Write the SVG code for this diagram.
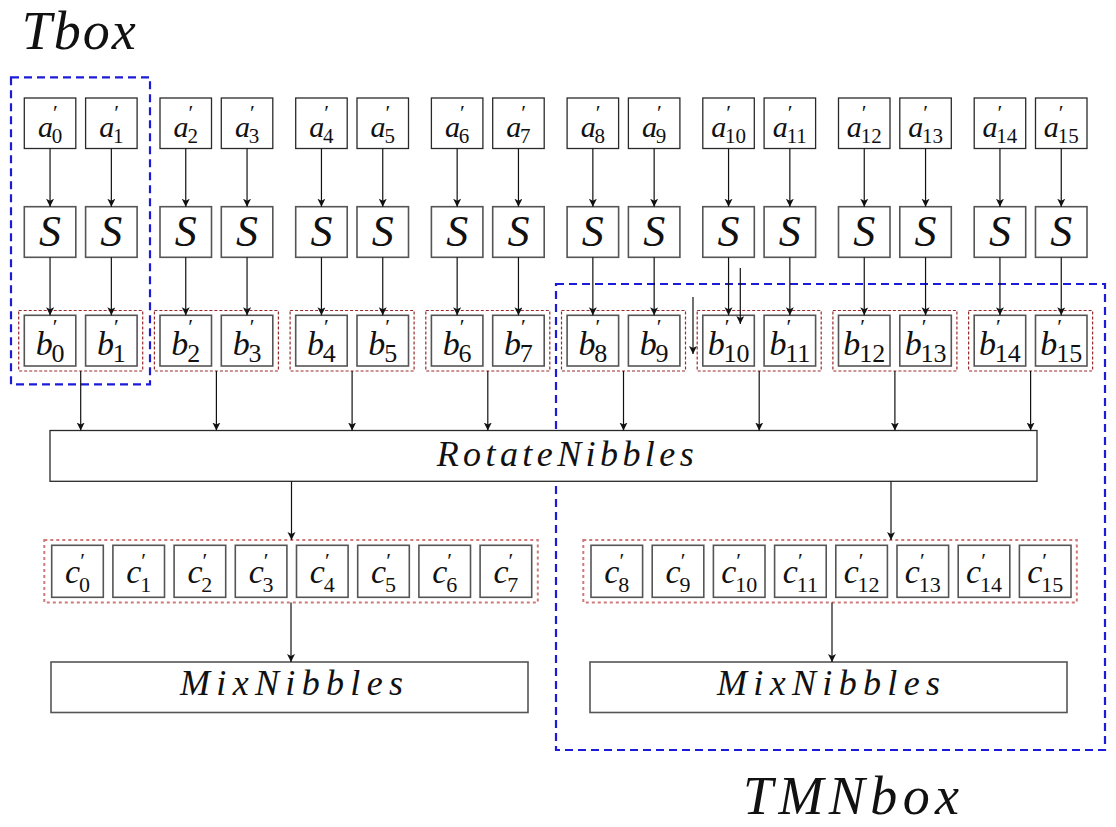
<svg xmlns="http://www.w3.org/2000/svg" width="1116" height="827" viewBox="0 0 1116 827">
<style>
.bg{fill:#fff}
.box{fill:#fff;stroke:#2a2a2a;stroke-width:1.3}
.gbox{fill:#fff;stroke:#555;stroke-width:1.6}
.rg{fill:none;stroke:#9a2a2a;stroke-width:1.2;stroke-dasharray:3 2}
.rgc{fill:none;stroke:#cf7a7a;stroke-width:2;stroke-dasharray:3 3}
.blue{fill:none;stroke:#1c1cd8;stroke-width:2.2;stroke-dasharray:8 5}
.conn line{stroke:#111;stroke-width:1.2;marker-end:url(#ah)}
text{font-family:"Liberation Serif","DejaVu Serif",serif;fill:#111}
.la{font-size:30px;font-style:italic}
.lb{font-size:34px;font-style:italic}
.lc{font-size:34px;font-style:italic}
.sa{font-size:21px;font-style:normal}
.sb{font-size:26px;font-style:normal}
.sc{font-size:22px;font-style:normal}
.pr{font-size:22px;font-style:normal}
.S{font-size:44px;font-style:italic}
.big{font-size:36px;font-style:italic}
.title{font-size:54px;font-style:italic}
</style>
<defs>
<marker id="ah" markerUnits="userSpaceOnUse" markerWidth="10" markerHeight="10" refX="8" refY="4" orient="auto">
<path d="M0,0 L8,4 L0,8 L2,4 z" fill="#111"/>
</marker>
</defs>
<rect class="bg" x="0" y="0" width="1116" height="827"/>

<g id="labels">
<text class="title" x="21.7" y="49" textLength="114" lengthAdjust="spacing">Tbox</text>
<text class="title" x="743" y="814" textLength="216" lengthAdjust="spacing">TMNbox</text>
</g>

<g id="tbox-frame"><rect class="blue" x="11" y="77.3" width="139" height="307"/></g>
<g id="tmnbox-frame"><rect class="blue" x="556" y="284" width="549" height="466"/></g>

<g id="a-row">
<g id="a0"><rect class="box" x="24.3" y="98" width="51.5" height="50.5"/><text x="50.05" y="137" text-anchor="middle"><tspan class="la">a</tspan><tspan class="pr" dy="-17">′</tspan><tspan class="sa" dx="-6" dy="23">0</tspan></text></g>
<g id="a1"><rect class="box" x="85.6" y="98" width="51.5" height="50.5"/><text x="111.35" y="137" text-anchor="middle"><tspan class="la">a</tspan><tspan class="pr" dy="-17">′</tspan><tspan class="sa" dx="-6" dy="23">1</tspan></text></g>
<g id="a2"><rect class="box" x="160" y="98" width="51.5" height="50.5"/><text x="185.75" y="137" text-anchor="middle"><tspan class="la">a</tspan><tspan class="pr" dy="-17">′</tspan><tspan class="sa" dx="-6" dy="23">2</tspan></text></g>
<g id="a3"><rect class="box" x="221.3" y="98" width="51.5" height="50.5"/><text x="247.05" y="137" text-anchor="middle"><tspan class="la">a</tspan><tspan class="pr" dy="-17">′</tspan><tspan class="sa" dx="-6" dy="23">3</tspan></text></g>
<g id="a4"><rect class="box" x="295.7" y="98" width="51.5" height="50.5"/><text x="321.45" y="137" text-anchor="middle"><tspan class="la">a</tspan><tspan class="pr" dy="-17">′</tspan><tspan class="sa" dx="-6" dy="23">4</tspan></text></g>
<g id="a5"><rect class="box" x="357" y="98" width="51.5" height="50.5"/><text x="382.75" y="137" text-anchor="middle"><tspan class="la">a</tspan><tspan class="pr" dy="-17">′</tspan><tspan class="sa" dx="-6" dy="23">5</tspan></text></g>
<g id="a6"><rect class="box" x="431.4" y="98" width="51.5" height="50.5"/><text x="457.15" y="137" text-anchor="middle"><tspan class="la">a</tspan><tspan class="pr" dy="-17">′</tspan><tspan class="sa" dx="-6" dy="23">6</tspan></text></g>
<g id="a7"><rect class="box" x="492.7" y="98" width="51.5" height="50.5"/><text x="518.45" y="137" text-anchor="middle"><tspan class="la">a</tspan><tspan class="pr" dy="-17">′</tspan><tspan class="sa" dx="-6" dy="23">7</tspan></text></g>
<g id="a8"><rect class="box" x="567.1" y="98" width="51.5" height="50.5"/><text x="592.85" y="137" text-anchor="middle"><tspan class="la">a</tspan><tspan class="pr" dy="-17">′</tspan><tspan class="sa" dx="-6" dy="23">8</tspan></text></g>
<g id="a9"><rect class="box" x="628.4" y="98" width="51.5" height="50.5"/><text x="654.15" y="137" text-anchor="middle"><tspan class="la">a</tspan><tspan class="pr" dy="-17">′</tspan><tspan class="sa" dx="-6" dy="23">9</tspan></text></g>
<g id="a10"><rect class="box" x="702.8" y="98" width="51.5" height="50.5"/><text x="728.55" y="137" text-anchor="middle"><tspan class="la">a</tspan><tspan class="pr" dy="-17">′</tspan><tspan class="sa" dx="-6" dy="23">10</tspan></text></g>
<g id="a11"><rect class="box" x="764.1" y="98" width="51.5" height="50.5"/><text x="789.85" y="137" text-anchor="middle"><tspan class="la">a</tspan><tspan class="pr" dy="-17">′</tspan><tspan class="sa" dx="-6" dy="23">11</tspan></text></g>
<g id="a12"><rect class="box" x="838.5" y="98" width="51.5" height="50.5"/><text x="864.25" y="137" text-anchor="middle"><tspan class="la">a</tspan><tspan class="pr" dy="-17">′</tspan><tspan class="sa" dx="-6" dy="23">12</tspan></text></g>
<g id="a13"><rect class="box" x="899.8" y="98" width="51.5" height="50.5"/><text x="925.55" y="137" text-anchor="middle"><tspan class="la">a</tspan><tspan class="pr" dy="-17">′</tspan><tspan class="sa" dx="-6" dy="23">13</tspan></text></g>
<g id="a14"><rect class="box" x="974.2" y="98" width="51.5" height="50.5"/><text x="999.95" y="137" text-anchor="middle"><tspan class="la">a</tspan><tspan class="pr" dy="-17">′</tspan><tspan class="sa" dx="-6" dy="23">14</tspan></text></g>
<g id="a15"><rect class="box" x="1035.5" y="98" width="51.5" height="50.5"/><text x="1061.25" y="137" text-anchor="middle"><tspan class="la">a</tspan><tspan class="pr" dy="-17">′</tspan><tspan class="sa" dx="-6" dy="23">15</tspan></text></g>
</g>

<g id="s-row">
<g id="S0"><rect class="gbox" x="24.3" y="206.7" width="51.5" height="50.6"/><text class="S" x="50.05" y="246" text-anchor="middle">S</text></g>
<g id="S1"><rect class="gbox" x="85.6" y="206.7" width="51.5" height="50.6"/><text class="S" x="111.35" y="246" text-anchor="middle">S</text></g>
<g id="S2"><rect class="gbox" x="160" y="206.7" width="51.5" height="50.6"/><text class="S" x="185.75" y="246" text-anchor="middle">S</text></g>
<g id="S3"><rect class="gbox" x="221.3" y="206.7" width="51.5" height="50.6"/><text class="S" x="247.05" y="246" text-anchor="middle">S</text></g>
<g id="S4"><rect class="gbox" x="295.7" y="206.7" width="51.5" height="50.6"/><text class="S" x="321.45" y="246" text-anchor="middle">S</text></g>
<g id="S5"><rect class="gbox" x="357" y="206.7" width="51.5" height="50.6"/><text class="S" x="382.75" y="246" text-anchor="middle">S</text></g>
<g id="S6"><rect class="gbox" x="431.4" y="206.7" width="51.5" height="50.6"/><text class="S" x="457.15" y="246" text-anchor="middle">S</text></g>
<g id="S7"><rect class="gbox" x="492.7" y="206.7" width="51.5" height="50.6"/><text class="S" x="518.45" y="246" text-anchor="middle">S</text></g>
<g id="S8"><rect class="gbox" x="567.1" y="206.7" width="51.5" height="50.6"/><text class="S" x="592.85" y="246" text-anchor="middle">S</text></g>
<g id="S9"><rect class="gbox" x="628.4" y="206.7" width="51.5" height="50.6"/><text class="S" x="654.15" y="246" text-anchor="middle">S</text></g>
<g id="S10"><rect class="gbox" x="702.8" y="206.7" width="51.5" height="50.6"/><text class="S" x="728.55" y="246" text-anchor="middle">S</text></g>
<g id="S11"><rect class="gbox" x="764.1" y="206.7" width="51.5" height="50.6"/><text class="S" x="789.85" y="246" text-anchor="middle">S</text></g>
<g id="S12"><rect class="gbox" x="838.5" y="206.7" width="51.5" height="50.6"/><text class="S" x="864.25" y="246" text-anchor="middle">S</text></g>
<g id="S13"><rect class="gbox" x="899.8" y="206.7" width="51.5" height="50.6"/><text class="S" x="925.55" y="246" text-anchor="middle">S</text></g>
<g id="S14"><rect class="gbox" x="974.2" y="206.7" width="51.5" height="50.6"/><text class="S" x="999.95" y="246" text-anchor="middle">S</text></g>
<g id="S15"><rect class="gbox" x="1035.5" y="206.7" width="51.5" height="50.6"/><text class="S" x="1061.25" y="246" text-anchor="middle">S</text></g>
</g>

<g id="b-groups">
<rect class="rg" x="18.7" y="310.5" width="124" height="60.5"/>
<rect class="rg" x="154.4" y="310.5" width="124" height="60.5"/>
<rect class="rg" x="290.1" y="310.5" width="124" height="60.5"/>
<rect class="rg" x="425.8" y="310.5" width="124" height="60.5"/>
<rect class="rg" x="561.5" y="310.5" width="124" height="60.5"/>
<rect class="rg" x="697.2" y="310.5" width="124" height="60.5"/>
<rect class="rg" x="832.9" y="310.5" width="124" height="60.5"/>
<rect class="rg" x="968.6" y="310.5" width="124" height="60.5"/>
</g>

<g id="b-row">
<g id="b0"><rect class="gbox" x="24.3" y="315.3" width="51.5" height="50.7"/><text x="50.05" y="355" text-anchor="middle"><tspan class="lb">b</tspan><tspan class="pr" dy="-21">′</tspan><tspan class="sb" dx="-6" dy="28">0</tspan></text></g>
<g id="b1"><rect class="gbox" x="85.6" y="315.3" width="51.5" height="50.7"/><text x="111.35" y="355" text-anchor="middle"><tspan class="lb">b</tspan><tspan class="pr" dy="-21">′</tspan><tspan class="sb" dx="-6" dy="28">1</tspan></text></g>
<g id="b2"><rect class="gbox" x="160" y="315.3" width="51.5" height="50.7"/><text x="185.75" y="355" text-anchor="middle"><tspan class="lb">b</tspan><tspan class="pr" dy="-21">′</tspan><tspan class="sb" dx="-6" dy="28">2</tspan></text></g>
<g id="b3"><rect class="gbox" x="221.3" y="315.3" width="51.5" height="50.7"/><text x="247.05" y="355" text-anchor="middle"><tspan class="lb">b</tspan><tspan class="pr" dy="-21">′</tspan><tspan class="sb" dx="-6" dy="28">3</tspan></text></g>
<g id="b4"><rect class="gbox" x="295.7" y="315.3" width="51.5" height="50.7"/><text x="321.45" y="355" text-anchor="middle"><tspan class="lb">b</tspan><tspan class="pr" dy="-21">′</tspan><tspan class="sb" dx="-6" dy="28">4</tspan></text></g>
<g id="b5"><rect class="gbox" x="357" y="315.3" width="51.5" height="50.7"/><text x="382.75" y="355" text-anchor="middle"><tspan class="lb">b</tspan><tspan class="pr" dy="-21">′</tspan><tspan class="sb" dx="-6" dy="28">5</tspan></text></g>
<g id="b6"><rect class="gbox" x="431.4" y="315.3" width="51.5" height="50.7"/><text x="457.15" y="355" text-anchor="middle"><tspan class="lb">b</tspan><tspan class="pr" dy="-21">′</tspan><tspan class="sb" dx="-6" dy="28">6</tspan></text></g>
<g id="b7"><rect class="gbox" x="492.7" y="315.3" width="51.5" height="50.7"/><text x="518.45" y="355" text-anchor="middle"><tspan class="lb">b</tspan><tspan class="pr" dy="-21">′</tspan><tspan class="sb" dx="-6" dy="28">7</tspan></text></g>
<g id="b8"><rect class="gbox" x="567.1" y="315.3" width="51.5" height="50.7"/><text x="592.85" y="355" text-anchor="middle"><tspan class="lb">b</tspan><tspan class="pr" dy="-21">′</tspan><tspan class="sb" dx="-6" dy="28">8</tspan></text></g>
<g id="b9"><rect class="gbox" x="628.4" y="315.3" width="51.5" height="50.7"/><text x="654.15" y="355" text-anchor="middle"><tspan class="lb">b</tspan><tspan class="pr" dy="-21">′</tspan><tspan class="sb" dx="-6" dy="28">9</tspan></text></g>
<g id="b10"><rect class="gbox" x="702.8" y="315.3" width="51.5" height="50.7"/><text x="728.55" y="355" text-anchor="middle"><tspan class="lb">b</tspan><tspan class="pr" dy="-21">′</tspan><tspan class="sb" dx="-6" dy="28">10</tspan></text></g>
<g id="b11"><rect class="gbox" x="764.1" y="315.3" width="51.5" height="50.7"/><text x="789.85" y="355" text-anchor="middle"><tspan class="lb">b</tspan><tspan class="pr" dy="-21">′</tspan><tspan class="sb" dx="-6" dy="28">11</tspan></text></g>
<g id="b12"><rect class="gbox" x="838.5" y="315.3" width="51.5" height="50.7"/><text x="864.25" y="355" text-anchor="middle"><tspan class="lb">b</tspan><tspan class="pr" dy="-21">′</tspan><tspan class="sb" dx="-6" dy="28">12</tspan></text></g>
<g id="b13"><rect class="gbox" x="899.8" y="315.3" width="51.5" height="50.7"/><text x="925.55" y="355" text-anchor="middle"><tspan class="lb">b</tspan><tspan class="pr" dy="-21">′</tspan><tspan class="sb" dx="-6" dy="28">13</tspan></text></g>
<g id="b14"><rect class="gbox" x="974.2" y="315.3" width="51.5" height="50.7"/><text x="999.95" y="355" text-anchor="middle"><tspan class="lb">b</tspan><tspan class="pr" dy="-21">′</tspan><tspan class="sb" dx="-6" dy="28">14</tspan></text></g>
<g id="b15"><rect class="gbox" x="1035.5" y="315.3" width="51.5" height="50.7"/><text x="1061.25" y="355" text-anchor="middle"><tspan class="lb">b</tspan><tspan class="pr" dy="-21">′</tspan><tspan class="sb" dx="-6" dy="28">15</tspan></text></g>
</g>

<g id="rotate"><rect class="box" x="50" y="430.5" width="987" height="50.8"/><text class="big" x="436.7" y="466" textLength="257" lengthAdjust="spacing">RotateNibbles</text></g>

<g id="c-groups">
<rect class="rgc" x="44.3" y="540" width="493.5" height="62.5"/>
<rect class="rgc" x="583.3" y="540" width="493.5" height="62.5"/>
</g>

<g id="c-row">
<g id="c0"><rect class="gbox" x="51.7" y="545.3" width="51.6" height="52"/><text x="77.5" y="583" text-anchor="middle"><tspan class="lc">c</tspan><tspan class="pr" dy="-15">′</tspan><tspan class="sc" dx="-6" dy="24">0</tspan></text></g>
<g id="c1"><rect class="gbox" x="112.9" y="545.3" width="51.6" height="52"/><text x="138.7" y="583" text-anchor="middle"><tspan class="lc">c</tspan><tspan class="pr" dy="-15">′</tspan><tspan class="sc" dx="-6" dy="24">1</tspan></text></g>
<g id="c2"><rect class="gbox" x="174.1" y="545.3" width="51.6" height="52"/><text x="199.9" y="583" text-anchor="middle"><tspan class="lc">c</tspan><tspan class="pr" dy="-15">′</tspan><tspan class="sc" dx="-6" dy="24">2</tspan></text></g>
<g id="c3"><rect class="gbox" x="235.3" y="545.3" width="51.6" height="52"/><text x="261.1" y="583" text-anchor="middle"><tspan class="lc">c</tspan><tspan class="pr" dy="-15">′</tspan><tspan class="sc" dx="-6" dy="24">3</tspan></text></g>
<g id="c4"><rect class="gbox" x="296.5" y="545.3" width="51.6" height="52"/><text x="322.3" y="583" text-anchor="middle"><tspan class="lc">c</tspan><tspan class="pr" dy="-15">′</tspan><tspan class="sc" dx="-6" dy="24">4</tspan></text></g>
<g id="c5"><rect class="gbox" x="357.7" y="545.3" width="51.6" height="52"/><text x="383.5" y="583" text-anchor="middle"><tspan class="lc">c</tspan><tspan class="pr" dy="-15">′</tspan><tspan class="sc" dx="-6" dy="24">5</tspan></text></g>
<g id="c6"><rect class="gbox" x="418.9" y="545.3" width="51.6" height="52"/><text x="444.7" y="583" text-anchor="middle"><tspan class="lc">c</tspan><tspan class="pr" dy="-15">′</tspan><tspan class="sc" dx="-6" dy="24">6</tspan></text></g>
<g id="c7"><rect class="gbox" x="480.1" y="545.3" width="51.6" height="52"/><text x="505.9" y="583" text-anchor="middle"><tspan class="lc">c</tspan><tspan class="pr" dy="-15">′</tspan><tspan class="sc" dx="-6" dy="24">7</tspan></text></g>
<g id="c8"><rect class="gbox" x="591" y="545.3" width="51.6" height="52"/><text x="616.8" y="583" text-anchor="middle"><tspan class="lc">c</tspan><tspan class="pr" dy="-15">′</tspan><tspan class="sc" dx="-6" dy="24">8</tspan></text></g>
<g id="c9"><rect class="gbox" x="652.2" y="545.3" width="51.6" height="52"/><text x="678" y="583" text-anchor="middle"><tspan class="lc">c</tspan><tspan class="pr" dy="-15">′</tspan><tspan class="sc" dx="-6" dy="24">9</tspan></text></g>
<g id="c10"><rect class="gbox" x="713.4" y="545.3" width="51.6" height="52"/><text x="739.2" y="583" text-anchor="middle"><tspan class="lc">c</tspan><tspan class="pr" dy="-15">′</tspan><tspan class="sc" dx="-6" dy="24">10</tspan></text></g>
<g id="c11"><rect class="gbox" x="774.6" y="545.3" width="51.6" height="52"/><text x="800.4" y="583" text-anchor="middle"><tspan class="lc">c</tspan><tspan class="pr" dy="-15">′</tspan><tspan class="sc" dx="-6" dy="24">11</tspan></text></g>
<g id="c12"><rect class="gbox" x="835.8" y="545.3" width="51.6" height="52"/><text x="861.6" y="583" text-anchor="middle"><tspan class="lc">c</tspan><tspan class="pr" dy="-15">′</tspan><tspan class="sc" dx="-6" dy="24">12</tspan></text></g>
<g id="c13"><rect class="gbox" x="897" y="545.3" width="51.6" height="52"/><text x="922.8" y="583" text-anchor="middle"><tspan class="lc">c</tspan><tspan class="pr" dy="-15">′</tspan><tspan class="sc" dx="-6" dy="24">13</tspan></text></g>
<g id="c14"><rect class="gbox" x="958.2" y="545.3" width="51.6" height="52"/><text x="984" y="583" text-anchor="middle"><tspan class="lc">c</tspan><tspan class="pr" dy="-15">′</tspan><tspan class="sc" dx="-6" dy="24">14</tspan></text></g>
<g id="c15"><rect class="gbox" x="1019.4" y="545.3" width="51.6" height="52"/><text x="1045.2" y="583" text-anchor="middle"><tspan class="lc">c</tspan><tspan class="pr" dy="-15">′</tspan><tspan class="sc" dx="-6" dy="24">15</tspan></text></g>
</g>

<g id="mix-left"><rect class="gbox" x="51" y="662" width="477" height="50.5"/><text class="big" x="180" y="695" textLength="223" lengthAdjust="spacing">MixNibbles</text></g>
<g id="mix-right"><rect class="gbox" x="590" y="662" width="477" height="50.5"/><text class="big" x="717" y="695" textLength="223" lengthAdjust="spacing">MixNibbles</text></g>

<g id="connectors" class="conn">
<line x1="50.05" y1="148.5" x2="50.05" y2="206.7"/>
<line x1="111.35" y1="148.5" x2="111.35" y2="206.7"/>
<line x1="185.75" y1="148.5" x2="185.75" y2="206.7"/>
<line x1="247.05" y1="148.5" x2="247.05" y2="206.7"/>
<line x1="321.45" y1="148.5" x2="321.45" y2="206.7"/>
<line x1="382.75" y1="148.5" x2="382.75" y2="206.7"/>
<line x1="457.15" y1="148.5" x2="457.15" y2="206.7"/>
<line x1="518.45" y1="148.5" x2="518.45" y2="206.7"/>
<line x1="592.85" y1="148.5" x2="592.85" y2="206.7"/>
<line x1="654.15" y1="148.5" x2="654.15" y2="206.7"/>
<line x1="728.55" y1="148.5" x2="728.55" y2="206.7"/>
<line x1="789.85" y1="148.5" x2="789.85" y2="206.7"/>
<line x1="864.25" y1="148.5" x2="864.25" y2="206.7"/>
<line x1="925.55" y1="148.5" x2="925.55" y2="206.7"/>
<line x1="999.95" y1="148.5" x2="999.95" y2="206.7"/>
<line x1="1061.25" y1="148.5" x2="1061.25" y2="206.7"/>
<line x1="50.05" y1="257.3" x2="50.05" y2="315.3"/>
<line x1="111.35" y1="257.3" x2="111.35" y2="315.3"/>
<line x1="185.75" y1="257.3" x2="185.75" y2="315.3"/>
<line x1="247.05" y1="257.3" x2="247.05" y2="315.3"/>
<line x1="321.45" y1="257.3" x2="321.45" y2="315.3"/>
<line x1="382.75" y1="257.3" x2="382.75" y2="315.3"/>
<line x1="457.15" y1="257.3" x2="457.15" y2="315.3"/>
<line x1="518.45" y1="257.3" x2="518.45" y2="315.3"/>
<line x1="592.85" y1="257.3" x2="592.85" y2="315.3"/>
<line x1="654.15" y1="257.3" x2="654.15" y2="315.3"/>
<line x1="728.55" y1="257.3" x2="728.55" y2="315.3"/>
<line x1="789.85" y1="257.3" x2="789.85" y2="315.3"/>
<line x1="864.25" y1="257.3" x2="864.25" y2="315.3"/>
<line x1="925.55" y1="257.3" x2="925.55" y2="315.3"/>
<line x1="999.95" y1="257.3" x2="999.95" y2="315.3"/>
<line x1="1061.25" y1="257.3" x2="1061.25" y2="315.3"/>
<line x1="740.3" y1="268" x2="740.3" y2="324"/>
<line x1="693" y1="297" x2="693" y2="354"/>
<line x1="80.7" y1="371" x2="80.7" y2="430.5"/>
<line x1="216.4" y1="371" x2="216.4" y2="430.5"/>
<line x1="352.1" y1="371" x2="352.1" y2="430.5"/>
<line x1="487.8" y1="371" x2="487.8" y2="430.5"/>
<line x1="623.5" y1="371" x2="623.5" y2="430.5"/>
<line x1="759.2" y1="371" x2="759.2" y2="430.5"/>
<line x1="894.9" y1="371" x2="894.9" y2="430.5"/>
<line x1="1030.6" y1="371" x2="1030.6" y2="430.5"/>
<line x1="291.5" y1="481.3" x2="291.5" y2="540"/>
<line x1="891" y1="481.3" x2="891" y2="540"/>
<line x1="291" y1="602.5" x2="291" y2="662"/>
<line x1="832" y1="602.5" x2="832" y2="662"/>
</g>
</svg>
